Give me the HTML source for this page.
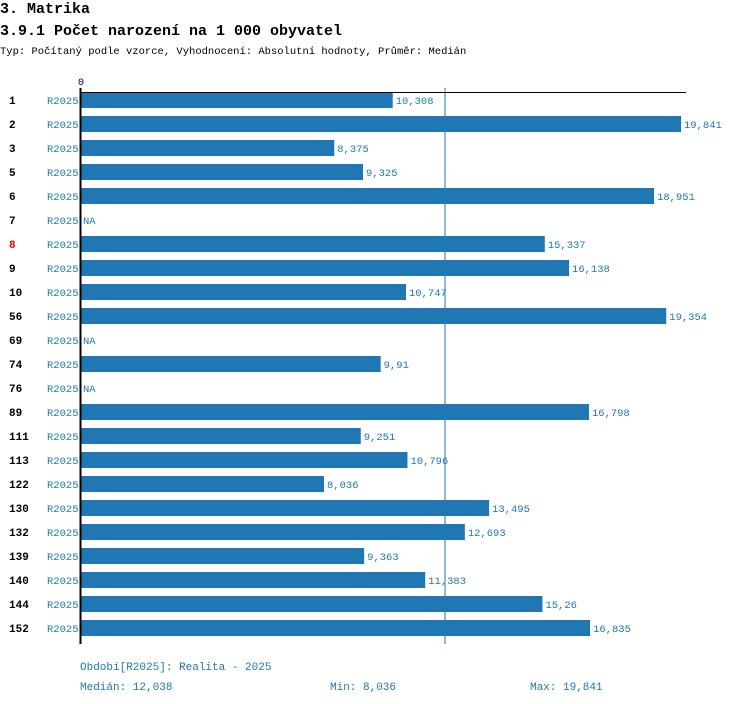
<!DOCTYPE html>
<html><head><meta charset="utf-8"><style>
body{margin:0;background:#fff;width:750px;height:704px;overflow:hidden;font-family:"Liberation Mono",monospace}
svg{position:absolute;left:0;top:0}
</style></head><body>
<svg id="c" width="750" height="704" xmlns="http://www.w3.org/2000/svg">
<text x="0" y="13" font-size="15" font-weight="bold" font-family="Liberation Mono,monospace">3. Matrika</text>
<text x="0" y="35" font-size="15" font-weight="bold" font-family="Liberation Mono,monospace">3.9.1 Počet narození na 1 000 obyvatel</text>
<text x="0" y="54" font-size="10.5" font-family="Liberation Mono,monospace">Typ: Počítaný podle vzorce, Vyhodnocení: Absolutní hodnoty, Průměr: Medián</text>
<text x="78" y="85" font-size="10" font-family="Liberation Mono,monospace">0</text>
<g id="g"></g>
<text x="80" y="670" font-size="11" fill="#1f77b4" font-family="Liberation Mono,monospace">Období[R2025]: Realita - 2025</text>
<text x="80" y="690" font-size="11" fill="#1f77b4" font-family="Liberation Mono,monospace">Medián: 12,038</text>
<text x="330" y="690" font-size="11" fill="#1f77b4" font-family="Liberation Mono,monospace">Min: 8,036</text>
<text x="530" y="690" font-size="11" fill="#1f77b4" font-family="Liberation Mono,monospace">Max: 19,841</text>
</svg>
<script>
const categories=["1","2","3","5","6","7","8","9","10","56","69","74","76","89","111","113","122","130","132","139","140","144","152"];
const values=[10.308,19.841,8.375,9.325,18.951,null,15.337,16.138,10.747,19.354,null,9.91,null,16.798,9.251,10.796,8.036,13.495,12.693,9.363,11.383,15.26,16.835];
const valueLabels=["10,308","19,841","8,375","9,325","18,951","NA","15,337","16,138","10,747","19,354","NA","9,91","NA","16,798","9,251","10,796","8,036","13,495","12,693","9,363","11,383","15,26","16,835"];
const highlighted=["8"];
const median=12.038, maxV=19.841;
const NS="http://www.w3.org/2000/svg";
const g=document.getElementById('g');
const x=v=>81+v*600/maxV;
const y=i=>100+i*24;
function mk(t,a){const e=document.createElementNS(NS,t);for(const k in a)e.setAttribute(k,a[k]);g.appendChild(e);return e;}
categories.forEach((c,i)=>{
  const cy=y(i);
  const t=mk('text',{x:9,y:cy+4,'font-size':11,'font-weight':'bold','font-family':'Liberation Mono,monospace',fill:highlighted.includes(c)?'#e00':'#000'});
  t.textContent=c;
  
  
  const p=mk('text',{x:47,y:cy+4,'font-size':10.5,fill:'#1f77b4','font-family':'Liberation Mono,monospace'});
  p.textContent='R2025';
  
  
  let end=x(0)+1;
  if(values[i]!=null){
    const b=mk('rect',{x:x(0),y:cy-8,width:x(values[i])-x(0),height:16,fill:'#1f77b4'});
    
    
    end=x(values[i])+2;
  }
  const v=mk('text',{x:end+1,y:cy+4,'font-size':10.5,fill:'#1f77b4','font-family':'Liberation Mono,monospace'});
  v.textContent=valueLabels[i];
  
  
});
const m=mk('line',{x1:x(median),x2:x(median),y1:88,y2:644,stroke:'#1f77b4','stroke-width':1});


const ax=mk('line',{x1:80.5,x2:80.5,y1:88,y2:644,stroke:'#000','stroke-width':2});


const tx=mk('line',{x1:80,x2:686,y1:92.5,y2:92.5,stroke:'#000','stroke-width':1});


</script>
</body></html>
